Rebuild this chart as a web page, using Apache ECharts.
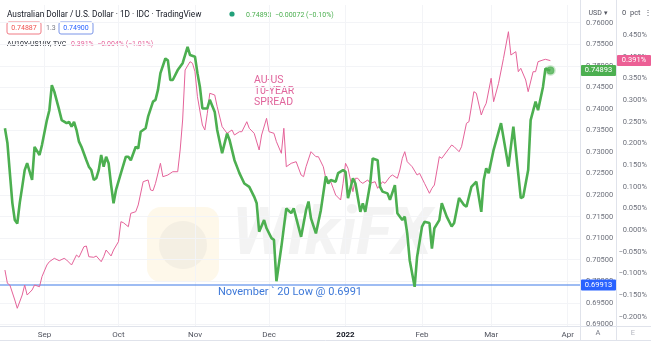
<!DOCTYPE html>
<html>
<head>
<meta charset="utf-8">
<script src="https://cdn.jsdelivr.net/npm/echarts@6/dist/echarts.min.js"></script>
<style>
  html, body { margin: 0; padding: 0; background: #fff; }
  #chart { width: 651px; height: 351px; }
</style>
</head>
<body>
<div id="chart"></div>
<script>
// AUD/USD daily close (main price scale, USD)
const audDates = [
  "2021-08-16","2021-08-17","2021-08-18","2021-08-19","2021-08-20","2021-08-21","2021-08-22","2021-08-23","2021-08-24","2021-08-25",
  "2021-08-27","2021-08-28","2021-08-30","2021-08-31","2021-09-02","2021-09-03","2021-09-04","2021-09-05","2021-09-07","2021-09-08",
  "2021-09-10","2021-09-11","2021-09-12","2021-09-13","2021-09-14","2021-09-15","2021-09-16","2021-09-18","2021-09-19","2021-09-20",
  "2021-09-21","2021-09-22","2021-09-23","2021-09-24","2021-09-25","2021-09-26","2021-09-27","2021-09-28","2021-09-29","2021-09-30",
  "2021-10-02","2021-10-04","2021-10-05","2021-10-06","2021-10-08","2021-10-09","2021-10-10","2021-10-12","2021-10-13","2021-10-15",
  "2021-10-16","2021-10-17","2021-10-18","2021-10-20","2021-10-21","2021-10-22","2021-10-23","2021-10-25","2021-10-27","2021-10-29",
  "2021-10-30","2021-11-01","2021-11-02","2021-11-03","2021-11-04","2021-11-06","2021-11-07","2021-11-09","2021-11-10","2021-11-12",
  "2021-11-13","2021-11-14","2021-11-15","2021-11-17","2021-11-18","2021-11-19","2021-11-21","2021-11-23","2021-11-25","2021-11-26",
  "2021-11-27","2021-11-29","2021-11-30","2021-12-02","2021-12-03","2021-12-04","2021-12-06","2021-12-08","2021-12-10","2021-12-11",
  "2021-12-14","2021-12-16","2021-12-17","2021-12-18","2021-12-20","2021-12-22","2021-12-24","2021-12-25","2021-12-26","2021-12-28",
  "2021-12-29","2021-12-31","2022-01-01","2022-01-02","2022-01-04","2022-01-05","2022-01-07","2022-01-08","2022-01-09","2022-01-11",
  "2022-01-12","2022-01-14","2022-01-15","2022-01-16","2022-01-18","2022-01-19","2022-01-21","2022-01-22","2022-01-24","2022-01-25",
  "2022-01-26","2022-01-27","2022-01-29","2022-01-30","2022-02-01","2022-02-02","2022-02-04","2022-02-05","2022-02-06","2022-02-08",
  "2022-02-09","2022-02-11","2022-02-13","2022-02-14","2022-02-16","2022-02-18","2022-02-19","2022-02-21","2022-02-23","2022-02-25",
  "2022-02-26","2022-02-27","2022-02-28","2022-03-02","2022-03-05","2022-03-08","2022-03-10","2022-03-13","2022-03-14","2022-03-16",
  "2022-03-17","2022-03-19","2022-03-20","2022-03-22","2022-03-23","2022-03-24","2022-03-25"
];
const audValues = [
  0.7355,0.7321,0.7251,0.7182,0.7142,0.7134,0.7182,0.7219,0.7258,0.7274,
  0.7235,0.7312,0.7293,0.7316,0.7374,0.7397,0.7455,0.7440,0.7397,0.7374,
  0.7367,0.7370,0.7359,0.7370,0.7351,0.7324,0.7312,0.7281,0.7266,0.7258,
  0.7235,0.7239,0.7258,0.7293,0.7266,0.7289,0.7274,0.7224,0.7181,0.7212,
  0.7251,0.7289,0.7289,0.7281,0.7312,0.7308,0.7347,0.7355,0.7382,0.7417,
  0.7421,0.7444,0.7483,0.7517,0.7513,0.7467,0.7467,0.7490,0.7506,0.7544,
  0.7525,0.7521,0.7483,0.7451,0.7401,0.7401,0.7421,0.7393,0.7351,0.7297,
  0.7320,0.7343,0.7328,0.7281,0.7266,0.7251,0.7227,0.7219,0.7196,0.7181,
  0.7115,0.7142,0.7123,0.7100,0.7096,0.7000,0.7080,0.7169,0.7158,0.7169,
  0.7103,0.7165,0.7185,0.7146,0.7111,0.7165,0.7243,0.7227,0.7235,0.7231,
  0.7251,0.7258,0.7254,0.7193,0.7239,0.7227,0.7161,0.7181,0.7161,0.7227,
  0.7285,0.7281,0.7219,0.7208,0.7204,0.7189,0.7223,0.7158,0.7142,0.7150,
  0.7111,0.7049,0.6987,0.7057,0.7127,0.7138,0.7135,0.7076,0.7123,0.7142,
  0.7181,0.7150,0.7127,0.7135,0.7193,0.7177,0.7173,0.7219,0.7231,0.7161,
  0.7235,0.7262,0.7251,0.7305,0.7367,0.7266,0.7359,0.7193,0.7196,0.7258,
  0.7374,0.7417,0.7397,0.7451,0.7494,0.7491,0.74893
];

// AU10Y-US10Y spread, pct (second scale)
const spreadDates = [
  "2021-08-16","2021-08-17","2021-08-18","2021-08-20","2021-08-21","2021-08-23","2021-08-24","2021-08-25","2021-08-27","2021-08-28",
  "2021-08-30","2021-08-31","2021-09-02","2021-09-03","2021-09-05","2021-09-07","2021-09-09","2021-09-10","2021-09-12","2021-09-14",
  "2021-09-15","2021-09-17","2021-09-18","2021-09-19","2021-09-21","2021-09-22","2021-09-24","2021-09-25","2021-09-26","2021-09-28",
  "2021-09-29","2021-10-01","2021-10-02","2021-10-03","2021-10-05","2021-10-06","2021-10-08","2021-10-09","2021-10-11","2021-10-13",
  "2021-10-14","2021-10-15","2021-10-16","2021-10-18","2021-10-19","2021-10-21","2021-10-23","2021-10-25","2021-10-26","2021-10-27",
  "2021-10-28","2021-10-30","2021-10-31","2021-11-01","2021-11-02","2021-11-04","2021-11-05","2021-11-06","2021-11-07","2021-11-09",
  "2021-11-10","2021-11-12","2021-11-14","2021-11-16","2021-11-17","2021-11-19","2021-11-20","2021-11-22","2021-11-23","2021-11-25",
  "2021-11-27","2021-11-28","2021-11-30","2021-12-01","2021-12-03","2021-12-04","2021-12-06","2021-12-07","2021-12-08","2021-12-10",
  "2021-12-12","2021-12-14","2021-12-15","2021-12-16","2021-12-18","2021-12-20","2021-12-21","2021-12-23","2021-12-24","2021-12-26",
  "2021-12-27","2021-12-28","2021-12-30","2021-12-31","2022-01-01","2022-01-02","2022-01-04","2022-01-05","2022-01-06","2022-01-07",
  "2022-01-08","2022-01-10","2022-01-11","2022-01-13","2022-01-14","2022-01-16","2022-01-17","2022-01-19","2022-01-20","2022-01-22",
  "2022-01-23","2022-01-24","2022-01-25","2022-01-26","2022-01-28","2022-01-30","2022-01-31","2022-02-02","2022-02-04","2022-02-05",
  "2022-02-06","2022-02-08","2022-02-09","2022-02-10","2022-02-12","2022-02-13","2022-02-14","2022-02-16","2022-02-17","2022-02-19",
  "2022-02-20","2022-02-22","2022-02-23","2022-02-25","2022-02-26","2022-02-27","2022-03-01","2022-03-02","2022-03-04","2022-03-06",
  "2022-03-08","2022-03-09","2022-03-11","2022-03-12","2022-03-13","2022-03-15","2022-03-16","2022-03-18","2022-03-19","2022-03-20",
  "2022-03-22","2022-03-23","2022-03-25"
];
const spreadValues = [
  -0.0923,-0.1230,-0.1269,-0.1615,-0.1806,-0.1500,-0.1269,-0.1500,-0.1384,-0.1269,
  -0.1308,-0.1077,-0.0807,-0.0731,-0.0653,-0.0708,-0.0653,-0.0692,-0.0807,-0.0576,
  -0.0629,-0.0385,-0.0369,-0.0616,-0.0629,-0.0599,-0.0731,-0.0616,-0.0461,-0.0599,
  -0.0461,-0.0269,0.0192,0.0169,0.0077,0.0386,0.0423,0.0578,0.1115,0.1155,
  0.0924,0.0908,0.1078,0.1540,0.1231,0.1270,0.1346,0.1346,0.1847,0.2539,
  0.3693,0.3885,0.3848,0.3654,0.3077,0.2424,0.2309,0.2694,0.3156,0.3116,
  0.2846,0.2385,0.2232,0.2309,0.2193,0.2269,0.2269,0.2500,0.2348,0.2232,
  0.1847,0.2193,0.2578,0.2269,0.2232,0.2039,0.1771,0.2348,0.1461,0.1540,
  0.1577,0.1270,0.1231,0.1461,0.1808,0.1692,0.1692,0.1461,0.1194,0.1115,
  0.0963,0.0808,0.0693,0.1078,0.1540,0.1425,0.0885,0.1194,0.1194,0.1115,
  0.1078,0.1155,0.1078,0.1115,0.0963,0.1115,0.1078,0.1231,0.1270,0.1194,
  0.1385,0.1655,0.1808,0.1577,0.1461,0.1270,0.1309,0.1078,0.0848,0.0963,
  0.1039,0.1692,0.1655,0.1732,0.1886,0.1962,0.1923,0.1808,0.1923,0.2463,
  0.2500,0.3193,0.3156,0.2655,0.2809,0.2925,0.3502,0.2962,0.3386,0.3963,
  0.4577,0.4039,0.4116,0.3654,0.3732,0.3463,0.3193,0.3654,0.3654,0.3885,
  0.3924,0.3940,0.391
];

const monthTicks = ["2021-09-01","2021-10-01","2021-11-01","2021-12-01","2022-01-01","2022-02-01","2022-03-01","2022-04-01"];
const monthNames = ["Jan","Feb","Mar","Apr","May","Jun","Jul","Aug","Sep","Oct","Nov","Dec"];
const usdTicks = [0.690,0.695,0.700,0.705,0.710,0.715,0.720,0.725,0.730,0.735,0.740,0.745,0.750,0.755,0.760];
const pctTicks = [-0.20,-0.15,-0.10,-0.05,0,0.05,0.10,0.15,0.20,0.25,0.30,0.35,0.40,0.45];
const novLow = 0.69913;

const FONT = 'Roboto, "Noto Sans", sans-serif';
const GREEN = '#4caf50';
const PINK = '#e5639a';
const BLUE = '#2962ff';
const LOW_BLUE = '#3f7be8';
const AXIS_GREY = '#6f727d';
const BORDER = '#e0e3eb';

const toTs = s => +new Date(s + 'T00:00:00');
const minus = s => s.replace('-', '\u2212');
const xMin = toTs('2021-08-14');
const xMax = toTs('2022-04-06');

const chart = echarts.init(document.getElementById('chart'));

const option = {
  animation: false,
  backgroundColor: '#ffffff',
  textStyle: { fontFamily: FONT },
  grid: { left: 0, right: 71, top: 5, bottom: 25 },
  xAxis: {
    // timestamps on a plain value axis, labels only at month starts
    type: 'value',
    min: xMin,
    max: xMax,
    axisLine: { show: true, onZero: false, lineStyle: { color: BORDER } },
    axisTick: { show: false, customValues: monthTicks.map(toTs) },
    splitLine: { show: true, lineStyle: { color: '#f3f4f7' } },
    axisLabel: {
      customValues: monthTicks.map(toTs),
      margin: 5,
      fontSize: 8,
      color: '#50535e',
      fontFamily: FONT,
      formatter: function (v) {
        const d = new Date(v);
        return d.getMonth() === 0 ? '{y|' + d.getFullYear() + '}' : monthNames[d.getMonth()];
      },
      rich: { y: { fontWeight: 'bold', color: '#131722', fontSize: 8, fontFamily: FONT } }
    }
  },
  yAxis: [
    {
      type: 'value',
      position: 'right',
      min: 0.68962,
      max: 0.76411,
      axisLine: { show: true, onZero: false, lineStyle: { color: BORDER } },
      axisTick: { show: false, customValues: usdTicks },
      splitLine: { show: true, lineStyle: { color: '#f3f4f7' } },
      axisLabel: {
        customValues: usdTicks,
        margin: 6,
        fontSize: 7.5,
        color: AXIS_GREY,
        fontFamily: FONT,
        formatter: v => v.toFixed(5)
      }
    },
    {
      type: 'value',
      position: 'right',
      offset: 36,
      min: -0.22149,
      max: 0.51934,
      axisLine: { show: true, onZero: false, lineStyle: { color: BORDER } },
      axisTick: { show: false, customValues: pctTicks },
      splitLine: { show: false },
      axisLabel: {
        customValues: pctTicks,
        margin: 31,
        align: 'right',
        fontSize: 7.5,
        color: AXIS_GREY,
        fontFamily: FONT,
        formatter: v => minus(v.toFixed(3)) + '%'
      }
    }
  ],
  series: [
    {
      // horizontal reference level across the whole pane, label via markLine
      name: 'Nov 20 low',
      type: 'line',
      yAxisIndex: 0,
      data: [[xMin, novLow], [xMax, novLow]],
      showSymbol: false,
      silent: true,
      color: LOW_BLUE,
      lineStyle: { color: LOW_BLUE, width: 1.2 },
      z: 2,
      markLine: {
        silent: true,
        symbol: 'none',
        lineStyle: { color: 'rgba(0,0,0,0)', width: 1, type: 'solid' },
        label: {
          show: true,
          position: 'insideMiddleBottom',
          distance: 5,
          color: '#3d78d8',
          fontSize: 11,
          fontFamily: FONT,
          formatter: 'November ` 20 Low @ 0.6991'
        },
        data: [{ yAxis: novLow }]
      }
    },
    {
      name: 'AU10Y-US10Y',
      type: 'line',
      yAxisIndex: 1,
      data: spreadDates.map((d, i) => [toTs(d), spreadValues[i]]),
      showSymbol: false,
      color: PINK,
      lineStyle: { color: PINK, width: 1 },
      z: 3
    },
    {
      name: 'AUDUSD',
      type: 'line',
      yAxisIndex: 0,
      data: audDates.map((d, i) => [toTs(d), audValues[i]]),
      showSymbol: false,
      color: GREEN,
      lineStyle: { color: GREEN, width: 2.6 },
      z: 4
    },
    {
      type: 'scatter',
      yAxisIndex: 0,
      data: [[toTs(audDates[audDates.length - 1]), audValues[audValues.length - 1]]],
      symbolSize: 8,
      itemStyle: { color: GREEN, borderColor: 'rgba(76,175,80,0.3)', borderWidth: 3 },
      z: 5
    }
  ],
  graphic: {
    elements: [
      // watermark
      { id: 'wmBox', type: 'rect', shape: { x: 147, y: 207, width: 72, height: 75, r: 14 }, style: { fill: 'rgba(250,222,150,0.2)' }, z: 0, silent: true },
      { id: 'wmEye', type: 'circle', shape: { cx: 183, cy: 245, r: 24 }, style: { fill: 'rgba(190,190,190,0.15)' }, z: 0, silent: true },
      { id: 'wmText', type: 'text', x: 232, y: 204, style: { text: 'WikiFX', fontSize: 66, fontWeight: 'bold', fontStyle: 'italic', fontFamily: FONT, fill: 'rgba(200,200,200,0.22)' }, z: 0, silent: true },
      // header
      { id: 'h1', type: 'text', x: 7, y: 15, style: { text: 'Australian Dollar / U.S. Dollar \u00b7 1D \u00b7 IDC \u00b7 TradingView', fontSize: 8.3, fontFamily: FONT, fill: '#131722', textVerticalAlign: 'middle' } },
      { id: 'hDot', type: 'circle', shape: { cx: 232, cy: 14, r: 2.6 }, style: { fill: '#22a07a' } },
      { id: 'h1b', type: 'text', x: 246, y: 15, style: { text: '0.74893  \u22120.00072 (\u22120.10%)', fontSize: 7, fontFamily: FONT, fill: GREEN, textVerticalAlign: 'middle' } },
      { id: 'bid', type: 'rect', shape: { x: 7, y: 22, width: 34, height: 12, r: 2 }, style: { fill: '#fff', stroke: '#f07a84', lineWidth: 1 } },
      { id: 'bidT', type: 'text', x: 24, y: 28, style: { text: '0.74887', fontSize: 7, fontFamily: FONT, fill: '#ef5350', textAlign: 'center', textVerticalAlign: 'middle' } },
      { id: 'spr', type: 'text', x: 46, y: 28, style: { text: '1.3', fontSize: 7, fontFamily: FONT, fill: '#787b86', textVerticalAlign: 'middle' } },
      { id: 'ask', type: 'rect', shape: { x: 59, y: 22, width: 34, height: 12, r: 2 }, style: { fill: '#fff', stroke: '#7a95e8', lineWidth: 1 } },
      { id: 'askT', type: 'text', x: 76, y: 28, style: { text: '0.74900', fontSize: 7, fontFamily: FONT, fill: BLUE, textAlign: 'center', textVerticalAlign: 'middle' } },
      { id: 'h3', type: 'text', x: 7, y: 44, style: { text: 'AU10Y-US10Y, TVC', fontSize: 7, fontFamily: FONT, fill: '#131722', textVerticalAlign: 'middle' } },
      { id: 'h3b', type: 'text', x: 71, y: 44, style: { text: '0.391%  \u22120.004% (\u22121.01%)', fontSize: 7, fontFamily: FONT, fill: PINK, textVerticalAlign: 'middle' } },
      // annotation
      { id: 'ann', type: 'text', x: 254, y: 75, style: { text: 'AU-US\n10-YEAR\nSPREAD', fontSize: 10.5, lineHeight: 10.8, fontFamily: FONT, fill: '#e0659c' } },
      // price scale headers and frame
      { id: 'usdHdr', type: 'text', x: 598, y: 13, style: { text: 'USD \u25be', fontSize: 7, fontFamily: FONT, fill: '#50535e', textAlign: 'center', textVerticalAlign: 'middle' } },
      { id: 'pctHdr', type: 'text', x: 622, y: 13, style: { text: '0  pct  \u22ee', fontSize: 7.5, fontFamily: FONT, fill: '#50535e', textVerticalAlign: 'middle' } },
      { id: 'sep1', type: 'line', shape: { x1: 580.5, y1: 0, x2: 580.5, y2: 341 }, style: { stroke: BORDER, lineWidth: 1 } },
      { id: 'sep2', type: 'line', shape: { x1: 616.5, y1: 0, x2: 616.5, y2: 341 }, style: { stroke: BORDER, lineWidth: 1 } },
      { id: 'bot1', type: 'line', shape: { x1: 0, y1: 326.5, x2: 651, y2: 326.5 }, style: { stroke: BORDER, lineWidth: 1 } },
      { id: 'bot2', type: 'line', shape: { x1: 0, y1: 340.5, x2: 651, y2: 340.5 }, style: { stroke: BORDER, lineWidth: 1 } },
      { id: 'btnA', type: 'text', x: 598, y: 333, style: { text: 'A', fontSize: 7.5, fontFamily: FONT, fill: '#787b86', textAlign: 'center', textVerticalAlign: 'middle' } },
      { id: 'btnE', type: 'text', x: 633, y: 333, style: { text: 'E', fontSize: 7.5, fontFamily: FONT, fill: '#b2b5be', textAlign: 'center', textVerticalAlign: 'middle' } }
    ]
  }
};

chart.setOption(option);

// last-value badges on the price scales, placed through the axes
function badge(id, yAxisIndex, value, x, w, fill, text) {
  const y = chart.convertToPixel({ yAxisIndex: yAxisIndex }, value);
  return [
    { id: id + 'R', type: 'rect', shape: { x: x, y: y - 5.5, width: w, height: 11, r: 1 }, style: { fill: fill }, z: 10 },
    { id: id + 'T', type: 'text', x: x + w / 2, y: y, style: { text: text, fontSize: 7.5, fontFamily: FONT, fill: '#ffffff', textAlign: 'center', textVerticalAlign: 'middle' }, z: 11 }
  ];
}
const lastAud = audValues[audValues.length - 1];
const lastSpread = spreadValues[spreadValues.length - 1];
chart.setOption({
  graphic: {
    elements: [].concat(
      badge('bAud', 0, lastAud, 581, 35, GREEN, lastAud.toFixed(5)),
      badge('bLow', 0, novLow, 581, 35, BLUE, novLow.toFixed(5)),
      badge('bSpr', 1, lastSpread, 617, 34, '#ec5f95', lastSpread.toFixed(3) + '%')
    )
  }
});
</script>
</body>
</html>
